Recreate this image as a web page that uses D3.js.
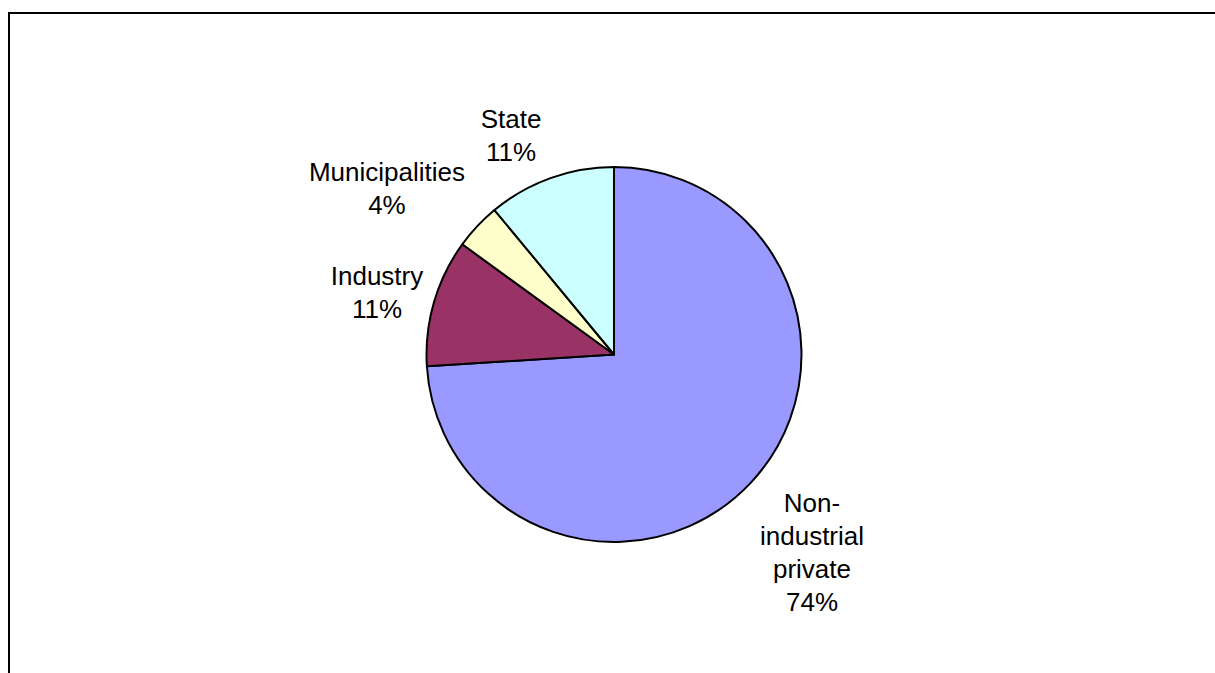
<!DOCTYPE html>
<html>
<head>
<meta charset="utf-8">
<script src="https://cdn.jsdelivr.net/npm/d3@7"></script>
<style>
  html, body { margin: 0; padding: 0; background: #fff; }
  svg { display: block; }
  text { font-family: "Liberation Sans", Arial, sans-serif; }
</style>
</head>
<body>
<svg id="chart" width="1215" height="673"></svg>
<script>
// Forest ownership shares (per cent), drawn clockwise from 12 o'clock
const categories = ["Non-industrial private", "Industry", "Municipalities", "State"];
const shares = [74, 11, 4, 11];
const labelLines = [["Non-", "industrial", "private"], ["Industry"], ["Municipalities"], ["State"]];
const colors = ["#9999FF", "#993366", "#FFFFCC", "#CCFFFF"];

// Label placement around the pie: distance from centre and angular nudge (degrees)
const labelRadius = [282, 244.5, 280, 240];
const labelAngleShift = [2.2, -2, -7.4, -5.6];

const W = 1215, H = 673;
const cx = 614, cy = 354.5, R = 187.5;
const fontSize = 26, lineH = 33;

const svg = d3.select("#chart");

// Chart area frame (top and left edges visible)
svg.append("rect")
  .attr("x", 9).attr("y", 13)
  .attr("width", W + 20).attr("height", H + 20)
  .attr("fill", "#fff")
  .attr("stroke", "#000").attr("stroke-width", 2);

const data = categories.map((c, i) => ({ name: c, value: shares[i], i }));

const pie = d3.pie().sort(null).value(d => d.value).startAngle(0).endAngle(2 * Math.PI);
const arc = d3.arc().innerRadius(0).outerRadius(R);
const arcs = pie(data);

const g = svg.append("g").attr("transform", `translate(${cx},${cy})`);

g.selectAll("path.slice")
  .data(arcs)
  .join("path")
  .attr("class", "slice")
  .attr("d", arc)
  .attr("fill", d => colors[d.data.i])
  .attr("stroke", "#000")
  .attr("stroke-width", 2)
  .attr("stroke-linejoin", "round");

// Category labels with percentages
const fmt = d3.format(".0f");
arcs.forEach(d => {
  const i = d.data.i;
  const mid = (d.startAngle + d.endAngle) / 2 + labelAngleShift[i] * Math.PI / 180;
  const lx = Math.sin(mid) * labelRadius[i];
  const ly = -Math.cos(mid) * labelRadius[i];
  const lines = labelLines[i].concat([fmt(d.data.value) + "%"]);
  const firstBase = ly - (lines.length - 1) * lineH / 2 + 6.5;
  const t = g.append("text")
    .attr("text-anchor", "middle")
    .attr("font-size", fontSize)
    .attr("fill", "#000");
  lines.forEach((s, k) => {
    t.append("tspan").attr("x", lx).attr("y", firstBase + k * lineH).text(s);
  });
});
</script>
</body>
</html>
